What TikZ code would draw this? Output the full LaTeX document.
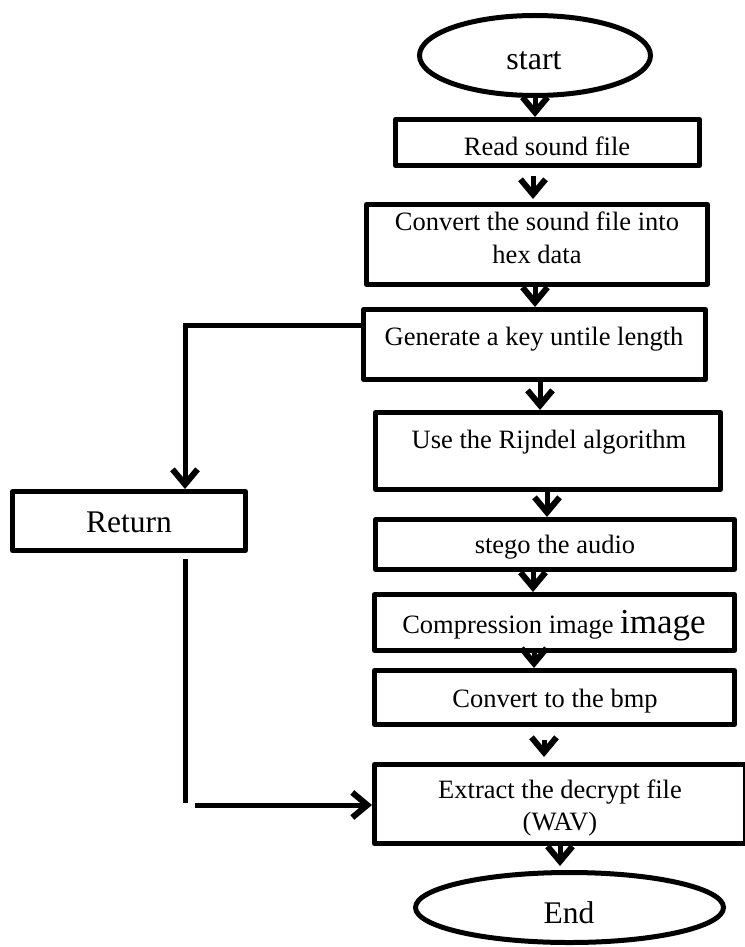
\documentclass[tikz,border=0pt]{standalone}
\usepackage{fontspec}
\setmainfont{Liberation Serif}
\usetikzlibrary{arrows.meta,shapes.geometric}
\begin{document}
\begin{tikzpicture}[x=1pt,y=-1pt,
  box/.style={draw, line width=5pt, line join=round, rectangle, inner sep=0pt},
  oval/.style={draw, line width=5pt, ellipse, inner sep=0pt},
  txt/.style={inner sep=0pt, anchor=base, font=\fontsize{26.5}{32}\selectfont},
  bigtxt/.style={inner sep=0pt, anchor=base, font=\fontsize{31.5}{38}\selectfont},
  link/.style={line width=5pt},
  flow/.style={line width=5pt, -{Straight Barb[length=15pt,width=25pt,line width=6pt]}},
]
\fill[white] (0,0) rectangle (744,947);
\useasboundingbox (0,0) rectangle (744,947);

% nodes
\node[oval, minimum width=231pt, minimum height=80pt] (start) at (535,55.5) {};
\node[bigtxt, font=\fontsize{32}{38}\selectfont] (startt) at (534,70) {start};

\node[box, minimum width=304pt, minimum height=46pt] (read) at (547.5,142.5) {};
\node[txt] (readt) at (547,155) {Read sound file};

\node[box, minimum width=341pt, minimum height=80pt] (conv) at (537,244.5) {};
\node[txt] (convt1) at (537,230) {Convert the sound file into};
\node[txt] (convt2) at (537,263) {hex data};

\node[box, minimum width=342pt, minimum height=70pt] (gen) at (534.5,344.5) {};
\node[txt] (gent) at (534,345) {Generate a key untile length};

\node[box, minimum width=345pt, minimum height=77pt] (use) at (548,451) {};
\node[txt] (uset) at (549,448) {Use the Rijndel algorithm};

\node[box, minimum width=359pt, minimum height=50pt] (stego) at (555,544.5) {};
\node[txt] (stegot) at (555,553) {stego the audio};

\node[box, minimum width=360pt, minimum height=56pt] (comp) at (554.5,622.5) {};
\node[txt] (compt) at (554,633) {Compression image {\fontsize{35}{40}\selectfont image}};

\node[box, minimum width=360pt, minimum height=54pt] (bmp) at (554.5,697.5) {};
\node[txt] (bmpt) at (555,707) {Convert to the bmp};

\node[box, minimum width=371pt, minimum height=79pt] (extr) at (560,804) {};
\node[txt] (extrt1) at (560,798) {Extract the decrypt file};
\node[txt] (extrt2) at (560,830) {(WAV)};

\node[oval, minimum width=308pt, minimum height=70pt] (end) at (569.5,907.5) {};
\node[bigtxt] (endt) at (569,923) {End};

\node[box, minimum width=233pt, minimum height=59pt] (ret) at (129,521) {};
\node[bigtxt] (rett) at (129,532) {Return};

% main flow
\draw[flow] (start.south) -- (start.south |- read.north);
\draw[flow] ([xshift=-14.5pt,yshift=-8pt]read.south) -- ([xshift=-14.5pt,yshift=3pt]read.south |- conv.north);
\draw[flow] ([xshift=-2pt]conv.south) -- ([xshift=-2pt]conv.south |- gen.north);
\draw[flow] ([xshift=5.5pt]gen.south) -- ([xshift=5.5pt]gen.south |- use.north);
\draw[flow] ([xshift=-1pt]use.south) -- ([xshift=-1pt]use.south |- stego.north);
\draw[flow] ([xshift=-22pt]stego.south) -- ([xshift=-22pt]stego.south |- comp.north);
\draw[flow] ([xshift=-20.5pt]comp.south) -- ([xshift=-20.5pt]comp.south |- bmp.north);
\draw[flow] ([xshift=-10.5pt,yshift=-13pt]bmp.south) -- ([xshift=-10.5pt,yshift=5pt]bmp.south |- extr.north);
\draw[flow] (extr.south) -- ([yshift=4pt]extr.south |- end.north);

% side branch
\draw[flow] ([yshift=19.5pt]gen.west) -| ([xshift=56pt]ret.north);
\coordinate (c1) at (185,803);
\coordinate (c2) at (195,805);
\draw[link] ([xshift=56pt,yshift=-6pt]ret.south) -- (c1);
\draw[flow] (c2) -- (c2 -| extr.west);
\end{tikzpicture}
\end{document}
